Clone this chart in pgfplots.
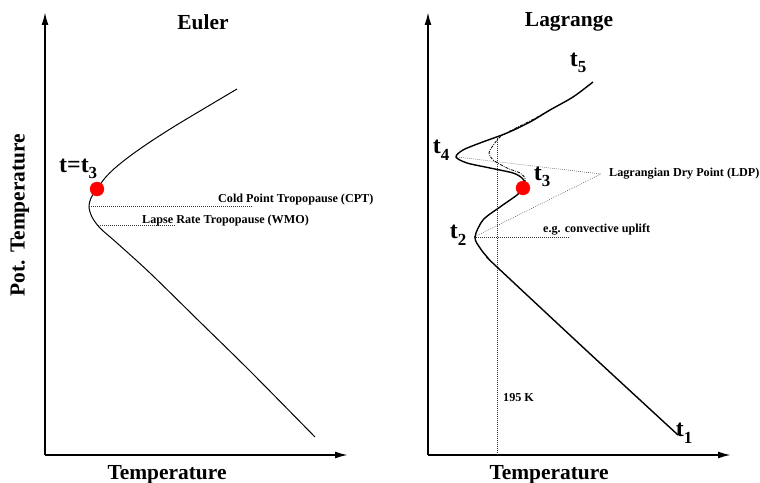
\documentclass[border=0pt]{standalone}
\usepackage{fontspec}
\setmainfont{Liberation Serif}
\usepackage{pgfplots}
\pgfplotsset{compat=1.18}
\usetikzlibrary{arrows.meta}

% big bold labels and t_n markers
\newcommand{\lbig}{\bfseries\fontsize{21.5}{24}\selectfont}
\newcommand{\lsml}{\bfseries\fontsize{12.2}{14}\selectfont}
\newcommand{\ltt}{\bfseries\fontsize{24}{26}\selectfont}
\newcommand{\tn}[1]{t\raisebox{-0.28em}{\fontsize{17}{17}\selectfont #1}}

\pgfplotsset{
  schem/.style={
    x=1bp, y=1bp, clip=false,
    axis lines=left, xtick=\empty, ytick=\empty,
    axis line style={line width=1.8bp, -{Latex[length=13bp,width=7bp]}},
    ymin=28, ymax=471,
  },
  guide/.style={black!80, line width=0.5bp, dash pattern=on 0.7bp off 1.3bp},
}

\begin{document}
\begin{tikzpicture}
\path[use as bounding box] (0,0) rectangle (760bp,483bp);

% ---------- Euler ----------
\begin{axis}[schem, xmin=45, xmax=348, at={(45bp,28bp)}, anchor=south west]
\addplot[black, line width=1bp, smooth] coordinates {
 (237,394) (205,375) (175,357) (150,341) (130,327) (115,315) (105,305)
 (97,294) (91,285) (89,276) (92,266) (100,255) (117,240) (150,210)
 (200,161) (250,112) (315,46) };
\addplot[guide] coordinates {(89,277) (253,277)};
\addplot[guide] coordinates {(98,258) (176,258)};
\addplot[only marks, mark=*, mark size=7, red] coordinates {(97,294)};
\node[font=\lbig] at (axis cs:203,461) {Euler};
\node[font=\lbig] at (axis cs:167,8) {Temperature};
\node[font=\lbig, rotate=90] at (axis cs:20,268) {Pot. Temperature};
\node[font=\ltt, anchor=base west, inner sep=0pt] at (axis cs:59,311) {t=\tn{3}};
\node[font=\lsml, anchor=base west, inner sep=0pt] at (axis cs:218,281) {Cold Point Tropopause (CPT)};
\node[font=\lsml, anchor=base west, inner sep=0pt] at (axis cs:142,260) {Lapse Rate Tropopause (WMO)};
\end{axis}

% ---------- Lagrange ----------
\begin{axis}[schem, xmin=428, xmax=731, at={(428bp,28bp)}, anchor=south west]
\addplot[guide] coordinates {(497,345) (497,28)};
\addplot[guide] coordinates {(474,246) (570,246)};
\addplot[guide] coordinates {(457,326) (601,309)};
\addplot[guide] coordinates {(474,246) (601,309)};
\addplot[black, line width=0.8bp, dash pattern=on 3bp off 1.2bp on 0.8bp off 1.2bp, smooth] coordinates {
 (550,373) (530,362) (512,353) (500,346) (492,336) (489,330) (493,323)
 (507,315) (520,310) (525,305) (525,301) };
\addplot[black, line width=1.4bp, smooth] coordinates {
 (593,401) (573,386) (550,373) (530,361) (507,350) (480,340) (463,333)
 (456,326) (467,320) (490,315) (513,310) (522,305) (525,300) (523,295) };
\addplot[black, line width=1.4bp, smooth] coordinates {
 (523,295) (517,288) (500,276) (483,263) (475,246) (480,235) (488,225)
 (497,216) (587,132) (678,48) };
\addplot[only marks, mark=*, mark size=7, red] coordinates {(523,295)};
\node[font=\lbig] at (axis cs:569,461) {Lagrange};
\node[font=\lbig] at (axis cs:549,8) {Temperature};
\node[font=\ltt] at (axis cs:578,420) {\tn{5}};
\node[font=\ltt] at (axis cs:441,333) {\tn{4}};
\node[font=\ltt] at (axis cs:542,306) {\tn{3}};
\node[font=\ltt] at (axis cs:458,248) {\tn{2}};
\node[font=\ltt] at (axis cs:684,50) {\tn{1}};
\node[font=\lsml, anchor=west, inner sep=0pt] at (axis cs:609,309) {Lagrangian Dry Point (LDP)};
\node[font=\lsml, anchor=west, inner sep=0pt] at (axis cs:543,253) {e.g. convective uplift};
\node[font=\lsml, anchor=west, inner sep=0pt] at (axis cs:503,85) {195 K};
\end{axis}
\end{tikzpicture}
\end{document}
